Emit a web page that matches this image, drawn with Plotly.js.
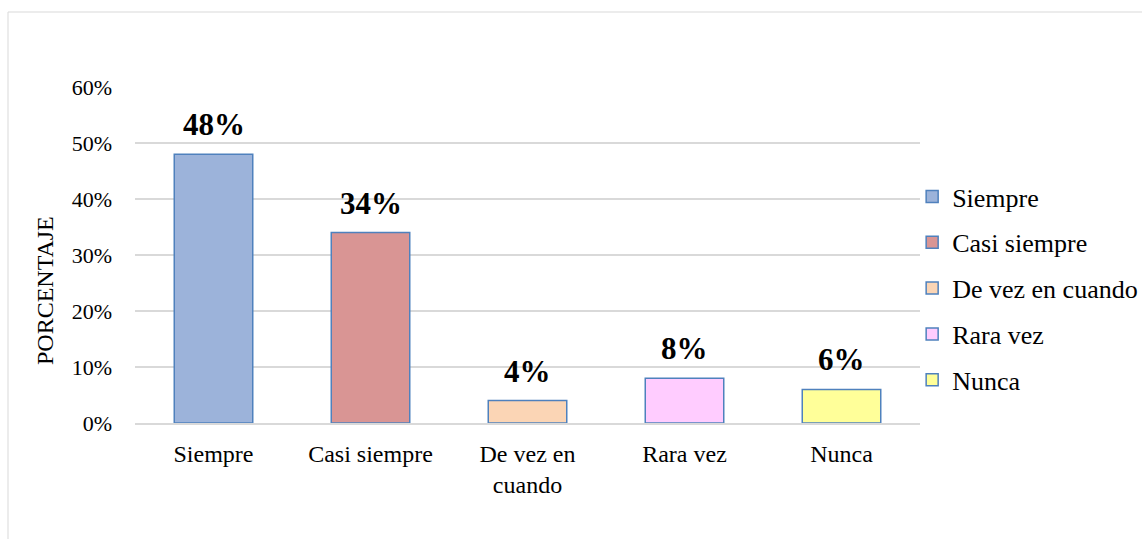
<!DOCTYPE html>
<html>
<head>
<meta charset="utf-8">
<script src="https://cdn.plot.ly/plotly-3.0.1.min.js"></script>
<style>
html,body{margin:0;padding:0;background:#fff;}
#chart{width:1142px;height:539px;}
</style>
</head>
<body>
<div id="chart"></div>
<script>
const categories = ["Siempre", "Casi siempre", "De vez en cuando", "Rara vez", "Nunca"];
const tickLabels = ["Siempre", "Casi siempre", "De vez en<br>cuando", "Rara vez", "Nunca"];
const values = [0.48, 0.34, 0.04, 0.08, 0.06];
const colors = ["#9CB3DA", "#D99594", "#FBD5B5", "#FFCCFF", "#FFFF99"];
const yTicks = [0, 0.1, 0.2, 0.3, 0.4, 0.5, 0.6];
const yTickText = ["0%", "10%", "20%", "30%", "40%", "50%", "60%"];
const yTitle = "PORCENTAJE";

const FONT = "Liberation Serif";

const traces = categories.map((c, i) => ({
  type: "bar",
  name: c,
  x: [c],
  y: [values[i]],
  width: 0.5,
  legendgroup: "g" + i,
  marker: {color: colors[i], line: {color: "#4F81BD", width: 1.5}},
  hoverinfo: "skip"
}));

const annotations = categories.map((c, i) => ({
  x: c, y: values[i], xref: "x", yref: "y",
  text: "<b>" + Math.round(values[i] * 100) + "%</b>",
  showarrow: false, yanchor: "bottom", yshift: 10,
  font: {family: FONT, size: 31, color: "#000"}
}));
annotations.push({
  xref: "paper", yref: "paper",
  x: (45 - 135) / 785, y: (423 - 291) / 336,
  xanchor: "center", yanchor: "middle",
  text: yTitle, textangle: -90, showarrow: false,
  font: {family: FONT, size: 24, color: "#000"}
});

const layout = {
  width: 1142, height: 539,
  margin: {l: 135, r: 222, t: 87, b: 116, autoexpand: false},
  paper_bgcolor: "#fff", plot_bgcolor: "#fff",
  barmode: "overlay",
  showlegend: true,
  font: {family: FONT, color: "#000"},
  xaxis: {
    type: "category",
    tickvals: categories, ticktext: tickLabels,
    showgrid: false, zeroline: false,
    showline: true, linecolor: "#D9D9D9", linewidth: 2,
    ticks: "", ticklabelstandoff: 8,
    tickfont: {family: FONT, size: 24, color: "#000"},
    automargin: false,
    fixedrange: true
  },
  yaxis: {
    range: [0, 0.6],
    tickvals: yTicks, ticktext: yTickText,
    showgrid: true, gridcolor: "#D9D9D9", gridwidth: 1.5,
    zeroline: false, showline: false,
    ticks: "", ticklabelstandoff: 22,
    tickfont: {family: FONT, size: 22, color: "#000"},
    automargin: false,
    fixedrange: true
  },
  legend: {
    x: 0.99, xanchor: "left", y: 0.4, yanchor: "middle",
    font: {family: FONT, size: 26, color: "#000"},
    tracegroupgap: 9,
    itemclick: false, itemdoubleclick: false,
    bgcolor: "rgba(0,0,0,0)"
  },
  annotations: annotations,
  shapes: [{
    type: "rect", xref: "paper", yref: "paper",
    x0: (8 - 135) / 785, x1: 1.5, y0: -0.6, y1: (423 - 12) / 336,
    line: {color: "#D9D9D9", width: 1}, fillcolor: "rgba(0,0,0,0)", layer: "below"
  }]
};

Plotly.newPlot("chart", traces, layout, {displayModeBar: false, staticPlot: true});
</script>
</body>
</html>
